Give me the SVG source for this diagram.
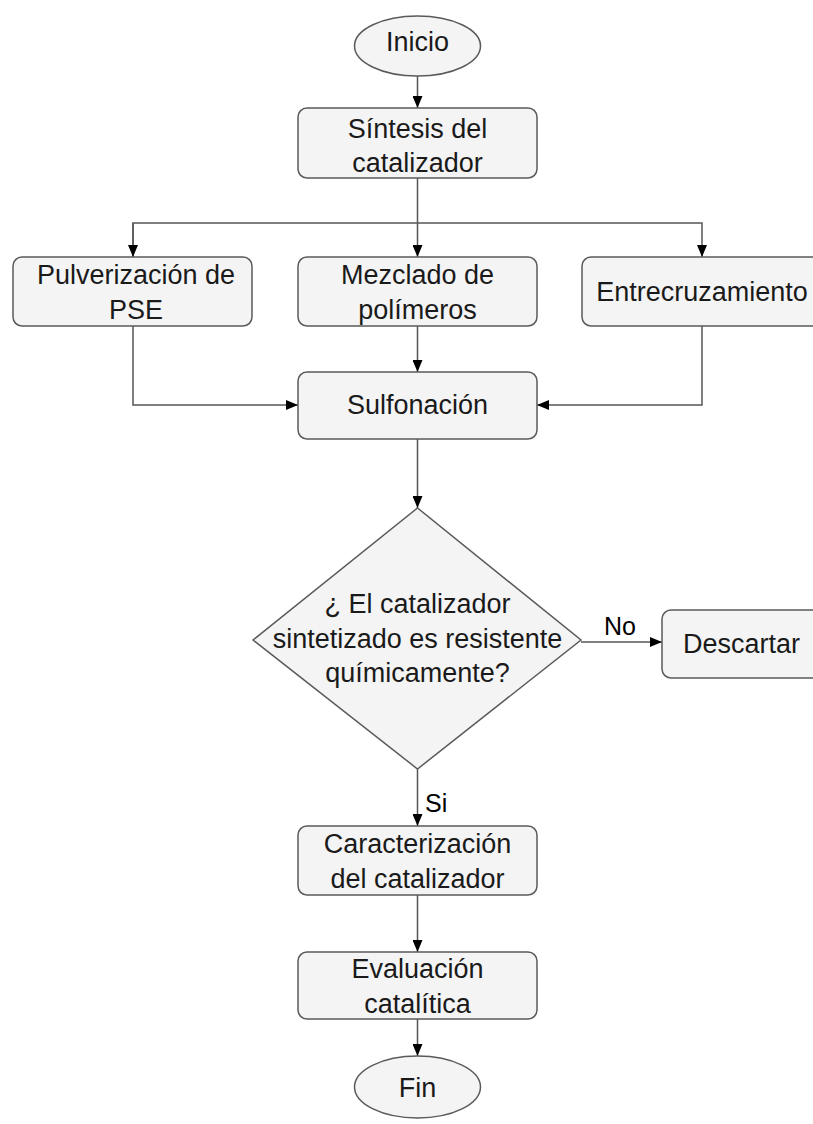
<svg xmlns="http://www.w3.org/2000/svg" width="813" height="1124" viewBox="0 0 813 1124">
<style>
.n{fill:#f4f4f4;stroke:#5a5a5a;stroke-width:1.5}
.t{font-family:"Liberation Sans",Arial,sans-serif;font-size:27px;fill:#1a1a1a;text-anchor:middle}
.l{font-family:"Liberation Sans",Arial,sans-serif;font-size:25px;fill:#000}
.c{fill:none;stroke:#555;stroke-width:1.5}
</style>
<defs>
<marker id="a" markerUnits="userSpaceOnUse" markerWidth="12" markerHeight="10" refX="12" refY="5" orient="auto">
<path d="M0,0 L12,5 L0,10 z" fill="#000"/>
</marker>
</defs>
<rect width="813" height="1124" fill="#fff"/>
<g id="connectors">
<path class="c" d="M417.5,76 V108" marker-end="url(#a)"/>
<path class="c" d="M417.5,178 V257" marker-end="url(#a)"/>
<path class="c" d="M133,257 V223 H702 V257" marker-end="url(#a)"/>
<path class="c" d="M133,223 V257" marker-end="url(#a)"/>
<path class="c" d="M133,326 V405 H298" marker-end="url(#a)"/>
<path class="c" d="M417.5,326 V372" marker-end="url(#a)"/>
<path class="c" d="M702,326 V405 H537" marker-end="url(#a)"/>
<path class="c" d="M417.5,439 V508" marker-end="url(#a)"/>
<path class="c" d="M581,642 H662" marker-end="url(#a)"/>
<path class="c" d="M417.5,769 V826" marker-end="url(#a)"/>
<path class="c" d="M417.5,895 V952" marker-end="url(#a)"/>
<path class="c" d="M417.5,1019 V1056" marker-end="url(#a)"/>
<text class="l" x="604" y="635">No</text>
<text class="l" x="425" y="812">Si</text>
</g>
<g id="inicio">
<ellipse class="n" cx="417.5" cy="46" rx="63" ry="30"/>
<text class="t" x="417.5" y="51">Inicio</text>
</g>
<g id="sintesis">
<rect class="n" x="298" y="108" width="239" height="70" rx="9"/>
<text class="t" x="417.5" y="138">Síntesis del</text>
<text class="t" x="417.5" y="172">catalizador</text>
</g>
<g id="pulverizacion">
<rect class="n" x="13" y="257" width="239" height="69" rx="9"/>
<text class="t" x="136" y="284">Pulverización de</text>
<text class="t" x="136" y="319">PSE</text>
</g>
<g id="mezclado">
<rect class="n" x="298" y="257" width="239" height="69" rx="9"/>
<text class="t" x="417.5" y="284">Mezclado de</text>
<text class="t" x="417.5" y="319">polímeros</text>
</g>
<g id="entrecruzamiento">
<rect class="n" x="582" y="257" width="239" height="69" rx="9"/>
<text class="t" x="702" y="301">Entrecruzamiento</text>
</g>
<g id="sulfonacion">
<rect class="n" x="298" y="372" width="239" height="67" rx="9"/>
<text class="t" x="417.5" y="414">Sulfonación</text>
</g>
<g id="decision">
<polygon class="n" points="417.5,508 581,640 417.5,769 253,640"/>
<text class="t" x="417.5" y="613">¿ El catalizador</text>
<text class="t" x="417.5" y="648">sintetizado es resistente</text>
<text class="t" x="417.5" y="682">químicamente?</text>
</g>
<g id="descartar">
<rect class="n" x="662" y="610" width="170" height="68" rx="9"/>
<text class="t" x="741.5" y="653">Descartar</text>
</g>
<g id="caracterizacion">
<rect class="n" x="298" y="826" width="239" height="69" rx="9"/>
<text class="t" x="417.5" y="853">Caracterización</text>
<text class="t" x="417.5" y="888">del catalizador</text>
</g>
<g id="evaluacion">
<rect class="n" x="298" y="952" width="239" height="67" rx="9"/>
<text class="t" x="417.5" y="978">Evaluación</text>
<text class="t" x="417.5" y="1013">catalítica</text>
</g>
<g id="fin">
<ellipse class="n" cx="417.5" cy="1087" rx="63" ry="31"/>
<text class="t" x="417.5" y="1097">Fin</text>
</g>
</svg>
